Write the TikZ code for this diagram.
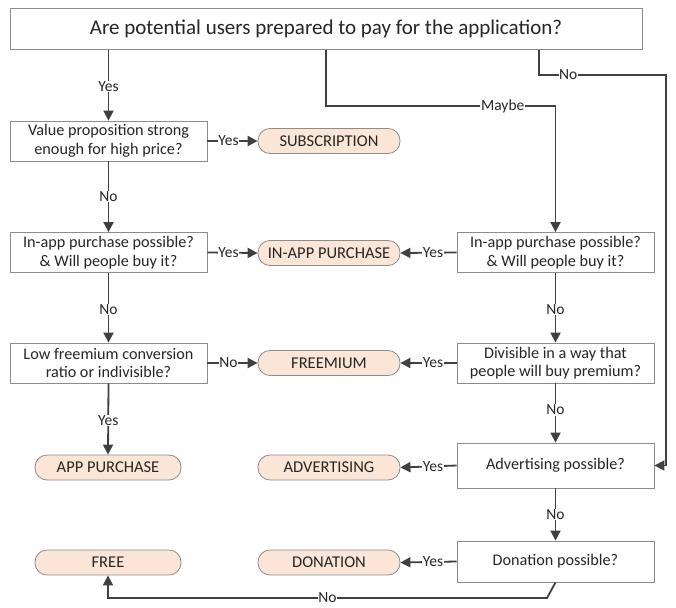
\documentclass[tikz,border=0pt]{standalone}
\usepackage{fontspec}
\setmainfont{Carlito}
\usetikzlibrary{arrows.meta}
\definecolor{edgegray}{HTML}{8C8C8C}
\definecolor{linegray}{HTML}{404040}
\definecolor{peach}{HTML}{FBE5D6}
\tikzset{
  qbox/.style={draw=edgegray, line width=0.8pt, fill=white, minimum width=197pt,
    minimum height=40pt, align=center, inner sep=2pt,
    font=\fontsize{16.2}{18.5}\selectfont, text=black!85},
  pill/.style={draw=edgegray, line width=0.8pt, fill=peach, rounded corners=12pt,
    minimum width=142pt, minimum height=25pt, inner sep=1pt,
    font=\fontsize{16.5}{18}\selectfont, text=black!85},
  arr/.style={draw=linegray, line width=1.8pt, -{Triangle[length=10pt,width=10pt]}},
  lbl/.style={fill=white, inner sep=0.6pt, font=\fontsize{15.5}{17}\selectfont, text=black!85},
}
\begin{document}
\begin{tikzpicture}[x=1pt, y=-1pt]
\useasboundingbox (0,0) rectangle (676,607);

% question boxes
\node[qbox, minimum width=632pt, minimum height=41pt, font=\fontsize{21}{24}\selectfont]
  (top) at (326,29) {Are potential users prepared to pay for the application?};
\node[qbox] (q1) at (108.5,141) {Value proposition strong\\enough for high price?};
\node[qbox] (q2) at (108.5,252.5) {In-app purchase possible?\\\& Will people buy it?};
\node[qbox] (q3) at (108.5,363) {Low freemium conversion\\ratio or indivisible?};
\node[qbox] (r2) at (555.5,252.5) {In-app purchase possible?\\\& Will people buy it?};
\node[qbox] (r3) at (555.5,363) {Divisible in a way that\\people will buy premium?};
\node[qbox, minimum height=45pt] (r4) at (555.5,465.5) {Advertising possible?};
\node[qbox, minimum height=41pt] (r5) at (555.5,561.5) {Donation possible?};

% outcomes
\node[pill] (sub) at (329,141) {SUBSCRIPTION};
\node[pill] (iap) at (329,253) {IN-APP PURCHASE};
\node[pill] (frm) at (329,363) {FREEMIUM};
\node[pill, minimum width=146pt] (app) at (108,467.5) {APP PURCHASE};
\node[pill] (adv) at (329,467.5) {ADVERTISING};
\node[pill, minimum width=146pt] (free) at (108,562.5) {FREE};
\node[pill] (don) at (329,562.5) {DONATION};

% routing points
\coordinate (m1) at (326,106);
\coordinate (n1) at (539,75);
\coordinate (n2) at (666,75);
\coordinate (b1) at (547,598);

% left column
\draw[arr] (top.south -| q1.north) -- node[lbl, pos=0.52]{Yes} (q1.north);
\draw[arr] (q1.east) -- node[lbl, pos=0.42]{Yes} (sub.west);
\draw[arr] (q1.south) -- node[lbl, pos=0.5]{No} (q2.north);
\draw[arr] (q2.east) -- node[lbl, pos=0.42]{Yes} (iap.west);
\draw[arr] (q2.south) -- node[lbl, pos=0.52]{No} (q3.north);
\draw[arr] (q3.east) -- node[lbl, pos=0.42]{No} (frm.west);
\draw[arr] (q3.south) -- node[lbl, pos=0.52]{Yes} (app.north);

% maybe branch
\draw[arr] (top.south -| m1) -- (m1) -- node[lbl, pos=0.77]{Maybe} (m1 -| r2.north) -- (r2.north);
\draw[arr] (r2.west) -- node[lbl, pos=0.42]{Yes} (iap.east);
\draw[arr] (r2.south) -- node[lbl, pos=0.52]{No} (r3.north);
\draw[arr] (r3.west) -- node[lbl, pos=0.42]{Yes} (frm.east);
\draw[arr] (r3.south) -- node[lbl, pos=0.45]{No} (r4.north);

% no branch
\draw[arr] (top.south -| n1) -- (n1) -- node[lbl, pos=0.23]{No} (n2) -- (n2 |- r4.east) -- (r4.east);
\draw[arr] (r4.west) -- node[lbl, pos=0.42]{Yes} (adv.east);
\draw[arr] (r4.south) -- node[lbl, pos=0.5]{No} (r5.north);
\draw[arr] (r5.west) -- node[lbl, pos=0.42]{Yes} (don.east);
\draw[arr] (r5.south) -- (b1) -- node[lbl, pos=0.5]{No} (b1 -| free.south) -- (free.south);
\end{tikzpicture}
\end{document}
